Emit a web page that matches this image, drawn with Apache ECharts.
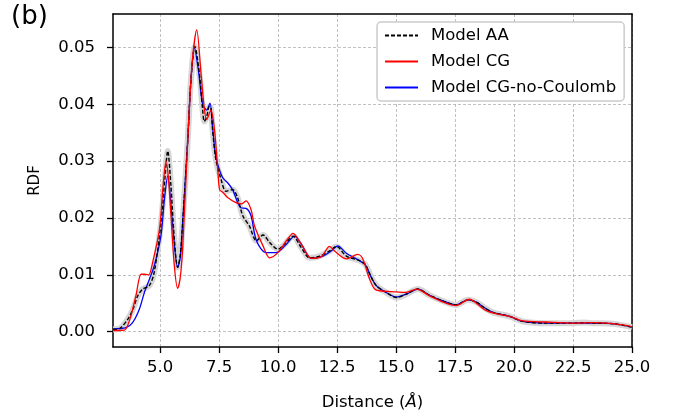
<!DOCTYPE html>
<html><head><meta charset="utf-8">
<script src="https://cdn.jsdelivr.net/npm/echarts@6/dist/echarts.min.js"></script>
<style>html,body{margin:0;padding:0;background:#fff}#c{width:675px;height:416px}</style>
</head><body><div id="c"></div>
<script>
// ---- data ----
const xTicks = [5.0, 7.5, 10.0, 12.5, 15.0, 17.5, 20.0, 22.5, 25.0];
const yTicks = [0.00, 0.01, 0.02, 0.03, 0.04, 0.05];
const seriesNames = ['Model AA', 'Model CG', 'Model CG-no-Coulomb'];

const xAA = [3.0,3.3,3.63,3.85,4.05,4.26,4.54,4.75,5.03,5.2,5.32,5.45,5.6,5.74,5.85,5.95,6.17,6.3,6.47,6.66,6.8,6.87,6.97,7.08,7.15,7.22,7.36,7.58,7.79,8.07,8.28,8.5,8.78,9.08,9.36,9.64,9.99,10.28,10.63,10.98,11.33,11.76,12.18,12.47,12.89,13.45,13.7,13.9,14.16,14.58,15.01,15.43,15.92,16.42,16.98,17.55,18.04,18.4,18.75,19.1,19.81,20.37,21.36,22.49,23.0,23.34,24.19,25.0];
const yAA = [0.0004,0.0006,0.0022,0.0040,0.0063,0.0075,0.0081,0.0105,0.0190,0.0270,0.0318,0.0260,0.0163,0.0113,0.0135,0.0190,0.0338,0.0440,0.0502,0.0455,0.0390,0.0370,0.0378,0.0396,0.0394,0.0356,0.0303,0.0268,0.0247,0.0250,0.0236,0.0204,0.0186,0.0160,0.0170,0.0157,0.0145,0.0154,0.0168,0.0148,0.0130,0.0133,0.0142,0.0150,0.0133,0.0125,0.0118,0.0100,0.0081,0.0069,0.0060,0.0066,0.0075,0.0064,0.0054,0.0047,0.0056,0.0052,0.0042,0.0034,0.0027,0.0018,0.0015,0.0015,0.0016,0.0015,0.0014,0.0008];

const xCG = [3.0,3.3,3.55,3.76,3.97,4.19,4.33,4.51,4.68,4.97,5.11,5.25,5.35,5.46,5.6,5.74,5.85,5.95,6.17,6.35,6.55,6.73,6.85,6.97,7.15,7.3,7.45,7.52,7.66,7.86,8.21,8.45,8.64,8.85,9.0,9.36,9.64,9.99,10.35,10.63,10.98,11.41,11.83,12.18,12.39,12.89,13.38,13.59,13.88,14.09,14.3,15.01,15.43,15.86,16.42,17.0,17.55,18.11,18.4,18.82,19.4,19.81,20.37,21.36,22.49,23.3,24.19,25.0];
const yCG = [0.0002,0.0002,0.0005,0.0028,0.0063,0.0101,0.0101,0.0100,0.0122,0.0180,0.0250,0.0300,0.0270,0.0204,0.0116,0.0076,0.0095,0.0145,0.0338,0.0470,0.0531,0.0455,0.0400,0.0373,0.0390,0.0356,0.0280,0.0250,0.0245,0.0236,0.0227,0.0225,0.0230,0.0215,0.0186,0.0151,0.0130,0.0139,0.0160,0.0173,0.0154,0.0129,0.0132,0.0150,0.0142,0.0128,0.0136,0.0128,0.0092,0.0075,0.0072,0.0070,0.0069,0.0075,0.0063,0.0052,0.0046,0.0057,0.0050,0.0037,0.0030,0.0027,0.0019,0.0017,0.0015,0.0016,0.0014,0.0009];

const xNC = [3.0,3.55,3.83,4.12,4.33,4.54,4.75,5.03,5.18,5.32,5.53,5.74,5.85,5.95,6.17,6.3,6.45,6.62,6.8,6.97,7.11,7.22,7.35,7.51,7.65,7.86,8.07,8.42,8.64,8.85,9.08,9.5,9.92,10.35,10.7,10.98,11.41,11.9,12.25,12.53,12.89,13.45,13.7,13.9,14.16,14.58,15.01,15.43,15.92,16.42,16.98,17.55,18.04,18.4,18.75,19.1,19.81,20.37,21.36,22.49,23.34,24.19,25.0];
const yNC = [0.0005,0.0007,0.0016,0.0040,0.0069,0.0092,0.0116,0.0168,0.0233,0.0274,0.0186,0.0113,0.0130,0.0190,0.0338,0.0440,0.0500,0.0460,0.0400,0.0390,0.0402,0.0360,0.0310,0.0285,0.0271,0.0262,0.0250,0.0218,0.0217,0.0204,0.0160,0.0139,0.0139,0.0154,0.0168,0.0154,0.0129,0.0133,0.0142,0.0151,0.0138,0.0125,0.0117,0.0100,0.0081,0.0069,0.0061,0.0066,0.0075,0.0064,0.0054,0.0047,0.0056,0.0052,0.0042,0.0034,0.0027,0.0018,0.0015,0.0015,0.0015,0.0014,0.0008];

// ---- chart ----
const pair = (xs, ys) => xs.map((x, i) => [x, ys[i]]);
const FONT = 'DejaVu Sans';
const chart = echarts.init(document.getElementById('c'), null, {renderer: 'canvas'});
const axisCommon = {
  axisLine: {show: true, onZero: false, lineStyle: {color: '#000', width: 1.5}},
  axisTick: {show: true, inside: false, length: 6, lineStyle: {color: '#000', width: 1.3}},
  splitLine: {show: true, lineStyle: {color: '#b0b0b0', width: 0.8, type: [3, 2]}},
};
const frameAxis = {
  axisLine: {show: true, onZero: false, lineStyle: {color: '#000', width: 1.5}},
  axisTick: {show: false}, axisLabel: {show: false}, splitLine: {show: false},
};
chart.setOption({
  animation: false,
  backgroundColor: '#fff',
  textStyle: {fontFamily: FONT},
  grid: {left: 113, right: 43, top: 14, bottom: 68},
  graphic: [{type: 'text', left: 11, top: 4, style: {text: '(b)', font: '26px "DejaVu Sans"', fill: '#000'}}],
  legend: {
    orient: 'vertical', left: 377, top: 22,
    data: seriesNames,
    itemWidth: 33, itemHeight: 14, itemGap: 9,
    padding: [5, 8, 5, 7],
    backgroundColor: '#fff', borderColor: '#cccccc', borderWidth: 1.5, borderRadius: 4,
    itemStyle: {opacity: 0},
    textStyle: {fontFamily: FONT, fontSize: 16.5, color: '#000', padding: [0, 0, 0, 8]},
  },
  xAxis: [Object.assign({}, axisCommon, {
    type: 'value', min: 3, max: 25,
    axisTick: Object.assign({}, axisCommon.axisTick, {customValues: xTicks}),
    axisLabel: {customValues: xTicks, formatter: v => v.toFixed(1), fontFamily: FONT, fontSize: 16.5, color: '#000', margin: 12},
    name: '{n|Distance (}{i|Å}{n|)}', nameLocation: 'middle', nameGap: 47,
    nameTextStyle: {rich: {n: {fontFamily: FONT, fontSize: 16.5, color: '#000'}, i: {fontFamily: FONT, fontStyle: 'italic', fontSize: 16.5, color: '#000'}}},
  }), Object.assign({type: 'value', position: 'top', min: 3, max: 25}, frameAxis)],
  yAxis: [Object.assign({}, axisCommon, {
    type: 'value', min: -0.0027, max: 0.0559,
    axisTick: Object.assign({}, axisCommon.axisTick, {customValues: yTicks}),
    axisLabel: {customValues: yTicks, formatter: v => v.toFixed(2), fontFamily: FONT, fontSize: 16.5, color: '#000', margin: 18},
    name: 'RDF', nameLocation: 'middle', nameGap: 70,
    nameTextStyle: {fontFamily: FONT, fontSize: 15, color: '#000'},
  }), Object.assign({type: 'value', position: 'right', min: -0.0027, max: 0.0559}, frameAxis)],
  series: [
    {name: 'AA band', type: 'line', data: pair(xAA, yAA), smooth: 0.3, symbol: 'none', silent: true,
     lineStyle: {color: '#d6d6d6', width: 6}},
    {name: seriesNames[2], type: 'line', data: pair(xNC, yNC), smooth: 0.3, symbol: 'none',
     lineStyle: {color: '#0000ff', width: 1.3}, itemStyle: {color: '#0000ff'}},
    {name: seriesNames[0], type: 'line', data: pair(xAA, yAA), smooth: 0.3, symbol: 'none',
     lineStyle: {color: '#000', width: 1.4, type: [4, 2]}, itemStyle: {color: '#000'}},
    {name: seriesNames[1], type: 'line', data: pair(xCG, yCG), smooth: 0.3, symbol: 'none',
     lineStyle: {color: '#ff0000', width: 1.3}, itemStyle: {color: '#ff0000'}},
  ],
});
</script></body></html>
